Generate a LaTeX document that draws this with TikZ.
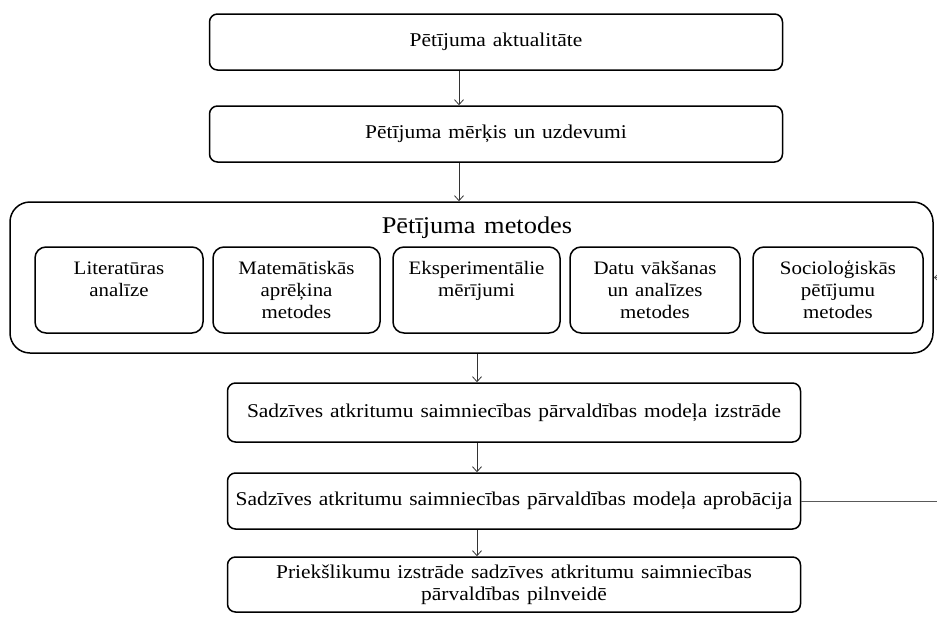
\documentclass[tikz,border=0pt]{standalone}
\usepackage{fontspec}
\setmainfont{Liberation Serif}[FakeStretch=1.1, WordSpace=1.3]
\usetikzlibrary{arrows.meta}
\begin{document}
\begin{tikzpicture}[x=1pt,y=-1pt,
  stagebox/.style={draw, line width=1.5pt, rounded corners=8pt, inner sep=0pt,
    align=center, font=\fontsize{19.5}{22}\selectfont},
  methodbox/.style={draw, line width=1.5pt, rounded corners=11pt, inner sep=0pt,
    minimum width=168pt, minimum height=86pt, align=center,
    font=\fontsize{19}{22}\selectfont},
  groupbox/.style={draw, line width=1.5pt, rounded corners=20pt, inner sep=0pt},
  flow/.style={line width=0.8pt, draw=black!80, -{Straight Barb[length=5pt,width=9pt]}},
  loopline/.style={line width=0.8pt, draw=black!65, -{Straight Barb[length=4pt,width=7pt]}}]
\useasboundingbox (0,0) rectangle (937,616);
\clip (0,0) rectangle (937,616);

% upper stages
\node[stagebox, minimum width=573pt, minimum height=56pt] (aktual) at (496,42) {Pētījuma aktualitāte};
\node[stagebox, minimum width=573pt, minimum height=56pt] (merkis) at (496,134) {Pētījuma mērķis un uzdevumi};

% research methods group
\node[groupbox, minimum width=923pt, minimum height=151pt] (metodes) at (471.5,277.5) {};
\node[font=\fontsize{24}{26}\selectfont] (mtitle) at (477,228) {Pētījuma metodes};
\node[methodbox] (m1) at (119,290) {Literatūras\\analīze\\\mbox{}};
\node[methodbox, minimum width=167pt] (m2) at (296.5,290) {Matemātiskās\\aprēķina\\metodes};
\node[methodbox, minimum width=167pt] (m3) at (476.5,290) {Eksperimentālie\\mērījumi\\\mbox{}};
\node[methodbox, minimum width=170pt] (m4) at (655,290) {Datu vākšanas\\un analīzes\\metodes};
\node[methodbox, minimum width=170pt] (m5) at (838,290) {Socioloģiskās\\pētījumu\\metodes};

% lower stages
\node[stagebox, minimum width=573pt, minimum height=59pt] (izstr) at (514,412.5) {Sadzīves atkritumu saimniecības pārvaldības modeļa izstrāde};
\node[stagebox, minimum width=573pt, minimum height=56pt] (aprob) at (514,501) {Sadzīves atkritumu saimniecības pārvaldības modeļa aprobācija};
\node[stagebox, minimum width=573pt, minimum height=55pt] (priek) at (514,584.5) {Priekšlikumu izstrāde sadzīves atkritumu saimniecības\\pārvaldības pilnveidē};

% flow arrows
\coordinate (ax) at (459,0);
\coordinate (bx) at (477,0);
\draw[flow] (aktual.south -| ax) -- (merkis.north -| ax);
\draw[flow] (merkis.south -| ax) -- (metodes.north -| ax);
\draw[flow] (metodes.south -| bx) -- (izstr.north -| bx);
\draw[flow] (izstr.south -| bx) -- (aprob.north -| bx);
\draw[flow] (aprob.south -| bx) -- (priek.north -| bx);

% feedback loop back to the methods
\coordinate (loop) at (955,400);
\draw[loopline] (aprob.east) -| (loop) |- (metodes.east);
\end{tikzpicture}
\end{document}
